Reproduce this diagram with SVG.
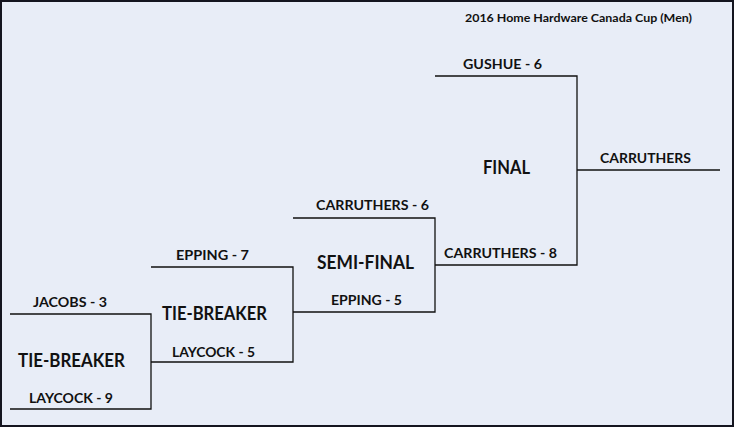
<svg xmlns="http://www.w3.org/2000/svg" width="734" height="427" viewBox="0 0 734 427">
<style>
text{font-family:Lato,"Open Sans","Liberation Sans",sans-serif;font-weight:bold;fill:#111;text-anchor:middle}
.n{font-size:14px}
.h{font-size:18px}
.t{font-size:11px}
.c{fill:none;stroke:#111;stroke-width:1.3}
</style>
<rect x="1" y="1" width="732" height="425" fill="#E8EDF7" stroke="#14151f" stroke-width="2"/>
<text class="t" x="578.5" y="22" textLength="227" lengthAdjust="spacingAndGlyphs">2016 Home Hardware Canada Cup (Men)</text>
<g id="connectors">
<path class="c" d="M10 314H151V409H10"/>
<path class="c" d="M151 362H293V267H151"/>
<path class="c" d="M293 312H435V218H293"/>
<path class="c" d="M435 265H577V76H435"/>
<path class="c" d="M577 170H720"/>
</g>
<g id="tb1">
<text class="n" x="70" y="307" textLength="74" lengthAdjust="spacingAndGlyphs">JACOBS - 3</text>
<text class="h" x="71.5" y="367" textLength="107" lengthAdjust="spacingAndGlyphs">TIE-BREAKER</text>
<text class="n" x="71" y="403" textLength="84" lengthAdjust="spacingAndGlyphs">LAYCOCK - 9</text>
</g>
<g id="tb2">
<text class="n" x="212.5" y="260" textLength="73" lengthAdjust="spacingAndGlyphs">EPPING - 7</text>
<text class="h" x="214.5" y="320" textLength="105" lengthAdjust="spacingAndGlyphs">TIE-BREAKER</text>
<text class="n" x="213.5" y="357" textLength="83" lengthAdjust="spacingAndGlyphs">LAYCOCK - 5</text>
</g>
<g id="semi">
<text class="n" x="372.5" y="210" textLength="113" lengthAdjust="spacingAndGlyphs">CARRUTHERS - 6</text>
<text class="h" x="365.5" y="269" textLength="97" lengthAdjust="spacingAndGlyphs">SEMI-FINAL</text>
<text class="n" x="366.5" y="305" textLength="71" lengthAdjust="spacingAndGlyphs">EPPING - 5</text>
</g>
<g id="final">
<text class="n" x="502.5" y="69" textLength="79" lengthAdjust="spacingAndGlyphs">GUSHUE - 6</text>
<text class="h" x="506.5" y="174" textLength="47" lengthAdjust="spacingAndGlyphs">FINAL</text>
<text class="n" x="500.5" y="258" textLength="113" lengthAdjust="spacingAndGlyphs">CARRUTHERS - 8</text>
</g>
<g id="winner">
<text class="n" x="645.5" y="163" textLength="91" lengthAdjust="spacingAndGlyphs">CARRUTHERS</text>
</g>
</svg>
